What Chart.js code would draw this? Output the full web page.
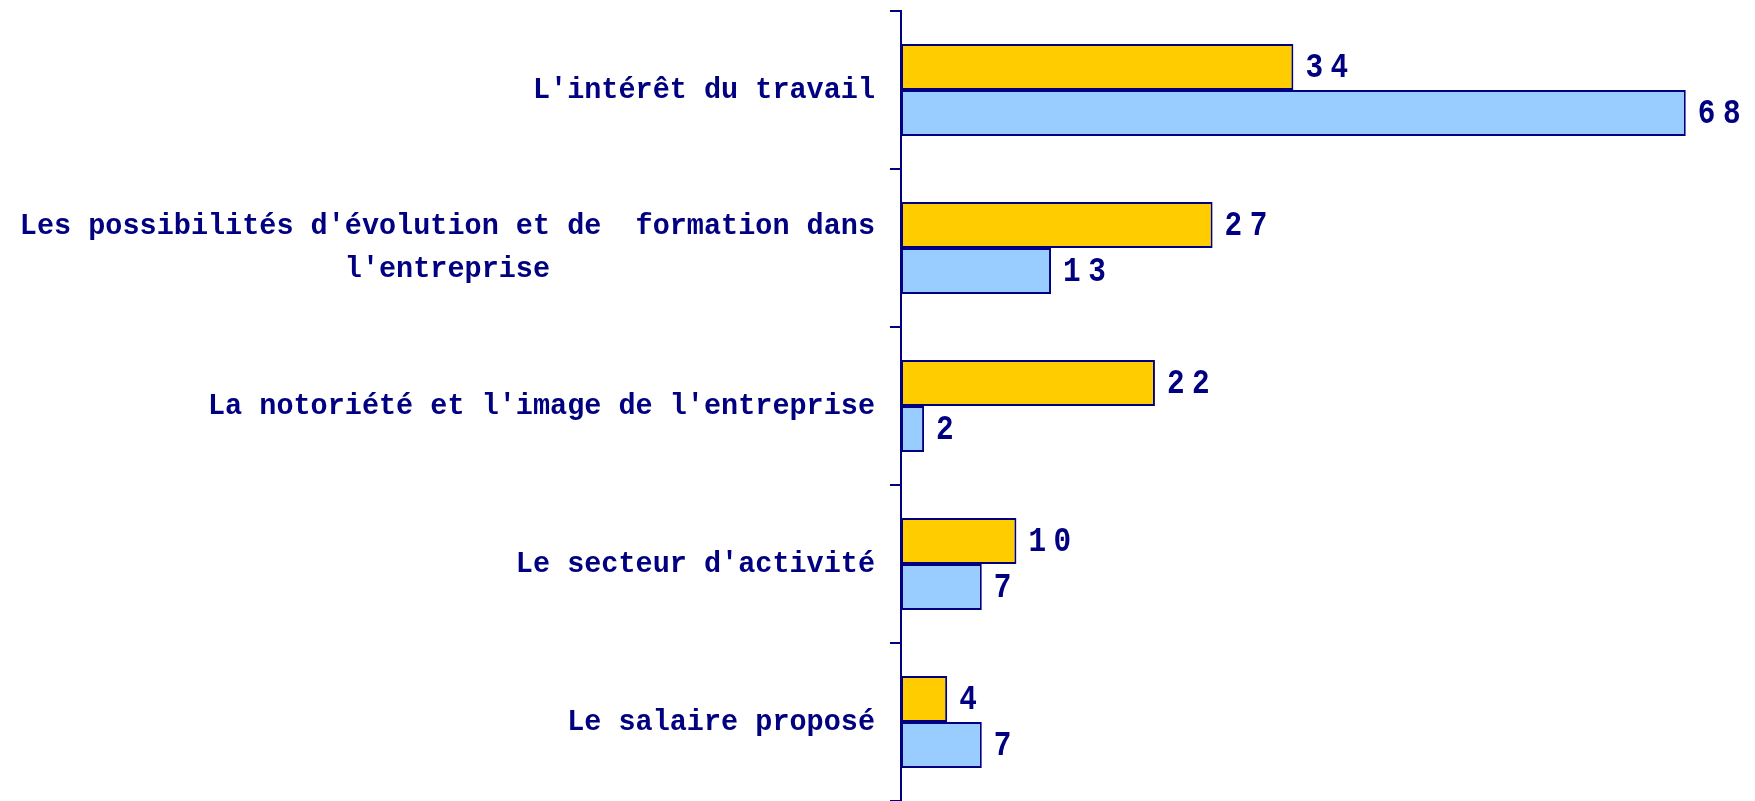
<!DOCTYPE html>
<html>
<head>
<meta charset="utf-8">
<script src="https://cdn.jsdelivr.net/npm/chart.js@4/dist/chart.umd.min.js"></script>
<style>
  html, body { margin: 0; padding: 0; background: #ffffff; }
  #wrap { width: 1755px; height: 801px; }
</style>
</head>
<body>
<div id="wrap"><canvas id="c" width="1755" height="801"></canvas></div>
<script>
const categoryLabels = [
  ["L'intérêt du travail"],
  ["Les possibilités d'évolution et de  formation dans", "l'entreprise"],
  ["La notoriété et l'image de l'entreprise"],
  ["Le secteur d'activité"],
  ["Le salaire proposé"]
];
const seriesYellow = [34, 27, 22, 10, 4];
const seriesBlue = [68, 13, 2, 7, 7];

const NAVY = '#000080';

const labelPlugin = {
  id: 'customLabels',
  afterDatasetsDraw(chart) {
    const ctx = chart.ctx;
    // value labels
    ctx.save();
    ctx.fillStyle = NAVY;
    ctx.font = 'bold 35px "Liberation Mono", "Courier New", monospace';
    ctx.textBaseline = 'middle';
    ctx.textAlign = 'left';
    try { ctx.letterSpacing = '9px'; } catch (e) {}
    const vsx = 0.84;
    chart.data.datasets.forEach((ds, di) => {
      const meta = chart.getDatasetMeta(di);
      meta.data.forEach((el, i) => {
        ctx.save();
        ctx.translate(el.x + 12, el.y + 1);
        ctx.scale(vsx, 1);
        ctx.fillText(String(ds.data[i]), 0, 0);
        ctx.restore();
      });
    });
    ctx.restore();

    // category labels
    const yScale = chart.scales.y;
    ctx.save();
    ctx.fillStyle = NAVY;
    ctx.font = 'bold 30px "Liberation Mono", "Courier New", monospace';
    ctx.textBaseline = 'middle';
    const sx = 0.95;
    const rightEdge = yScale.right - 26;
    const lineH = 43;
    chart.data.labels.forEach((lab, i) => {
      const lines = Array.isArray(lab) ? lab : [lab];
      const yc = yScale.getPixelForTick(i);
      let widest = 0;
      lines.forEach(l => { widest = Math.max(widest, ctx.measureText(l).width * sx); });
      const cx = rightEdge - widest / 2;
      lines.forEach((l, k) => {
        const y = yc + (k - (lines.length - 1) / 2) * lineH;
        ctx.save();
        ctx.translate(cx, y);
        ctx.scale(sx, 1);
        ctx.textAlign = 'center';
        ctx.fillText(l, 0, 0);
        ctx.restore();
      });
    });
    ctx.restore();
  }
};

new Chart(document.getElementById('c'), {
  type: 'bar',
  data: {
    labels: categoryLabels,
    datasets: [
      {
        data: seriesYellow,
        backgroundColor: '#FFCC00',
        borderColor: NAVY,
        borderWidth: 2,
        borderSkipped: false
      },
      {
        data: seriesBlue,
        backgroundColor: '#99CCFF',
        borderColor: NAVY,
        borderWidth: 2,
        borderSkipped: false
      }
    ]
  },
  options: {
    indexAxis: 'y',
    responsive: false,
    animation: false,
    layout: { padding: { top: 11, right: 0, bottom: 0, left: 0 } },
    plugins: { legend: { display: false }, tooltip: { enabled: false } },
    datasets: { bar: { categoryPercentage: 0.582, barPercentage: 1.0 } },
    scales: {
      x: {
        display: false,
        min: 0,
        max: 74
      },
      y: {
        offset: true,
        ticks: { display: false },
        grid: {
          offset: true,
          drawOnChartArea: false,
          drawTicks: true,
          tickLength: 11,
          color: NAVY,
          lineWidth: 2
        },
        border: { display: true, color: NAVY, width: 2 },
        afterFit(scale) { scale.width = 901; }
      }
    }
  },
  plugins: [labelPlugin]
});
</script>
</body>
</html>
